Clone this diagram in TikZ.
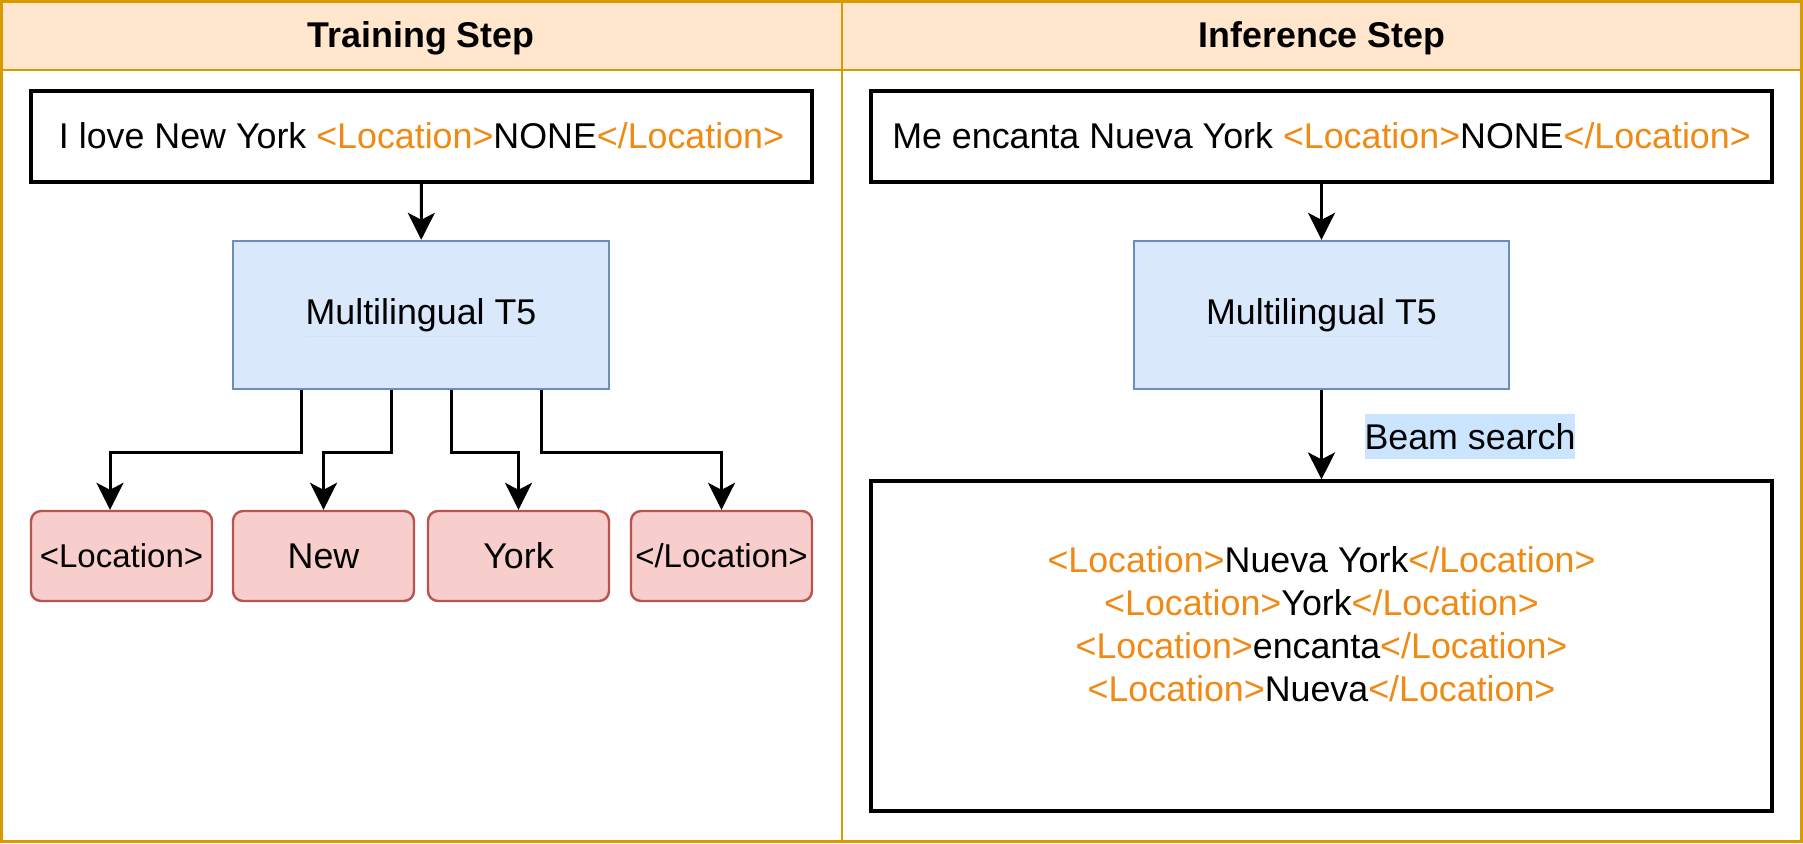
\documentclass[tikz,border=0pt]{standalone}
\usepackage{fontspec}
\setmainfont{Liberation Sans}
\usetikzlibrary{arrows.meta,calc}
\definecolor{hdrfill}{HTML}{FFE6CC}
\definecolor{hdrline}{HTML}{D79B00}
\definecolor{bluefill}{HTML}{DAE8FC}
\definecolor{blueline}{HTML}{6C8EBF}
\definecolor{redfill}{HTML}{F8CECC}
\definecolor{redline}{HTML}{B85450}
\definecolor{tagc}{HTML}{F08A14}
\definecolor{beambg}{HTML}{CCE5FF}
\newcommand{\tg}[1]{\textcolor{tagc}{#1}}
\tikzset{
  mainfont/.style={font=\fontsize{17.9}{21.5}\selectfont},
  titlefont/.style={font=\fontsize{17.9}{21.5}\selectfont\bfseries},
  frameline/.style={draw=hdrline, line width=1.4pt},
  blackbox/.style={draw=black, line width=1.6pt, fill=white, inner sep=0pt, minimum height=45.5pt},
  modelbox/.style={draw=blueline, line width=1.2pt, fill=bluefill, inner sep=0pt, minimum width=188pt, minimum height=74pt},
  tokbox/.style={draw=redline, line width=1.2pt, fill=redfill, rounded corners=5pt, inner sep=0pt, minimum width=90.5pt, minimum height=45pt},
  arr/.style={draw=black, line width=1.5pt, -{Stealth[length=13.5pt, width=13.5pt, inset=3.5pt]}},
  ulstyle/.style={draw=beambg, line width=0.6pt},
}
\begin{document}
\begin{tikzpicture}[x=0.5pt, y=-0.5pt, mainfont]
\useasboundingbox (0,0) rectangle (1803,843);
% frame and headers
\fill[hdrfill] (0,0) rectangle (1803,70);
\draw[frameline] (0,70) -- (1803,70);
\draw[frameline] (842,0) -- (842,843);
\draw[hdrline, line width=1.6pt] (1.6,1.6) rectangle (1801.4,841.4);
\node[titlefont] (ttrain) at (421,38) {Training Step};
\node[titlefont] (tinfer) at (1322,38) {Inference Step};
% training side
\node[blackbox, minimum width=390.5pt] (in1) at (421.5,136.5)
  {\raisebox{1pt}{I love New York \tg{<Location>}NONE\tg{</Location>}}};
\node[modelbox] (t5a) at (421,315) {Multilingual T5};
\draw[ulstyle] ([xshift=-57.5pt, yshift=-10.8pt]t5a.center) -- ([xshift=57.5pt, yshift=-10.8pt]t5a.center);
\node[tokbox, font=\fontsize{16.5}{19}\selectfont] (tk1) at (121.5,556) {<Location>};
\node[tokbox] (tk2) at (323.5,556) {New};
\node[tokbox] (tk3) at (518.5,556) {York};
\node[tokbox, font=\fontsize{16.5}{19}\selectfont] (tk4) at (721.5,556) {</Location>};
\draw[arr] (in1) -- (t5a);
\draw[arr] ([xshift=-60pt]t5a.south) -- ++(0,62) -| ([xshift=-5.75pt]tk1.north);
\draw[arr] ([xshift=-15pt]t5a.south) -- ++(0,62) -| (tk2.north);
\draw[arr] ([xshift=15pt]t5a.south) -- ++(0,62) -| (tk3.north);
\draw[arr] ([xshift=60pt]t5a.south) -- ++(0,62) -| (tk4.north);
% inference side
\node[blackbox, minimum width=450.5pt] (in2) at (1321.5,136.5)
  {\raisebox{1pt}{Me encanta Nueva York \tg{<Location>}NONE\tg{</Location>}}};
\node[modelbox, minimum width=187.5pt] (t5b) at (1321.5,315) {Multilingual T5};
\draw[ulstyle] ([xshift=-57.5pt, yshift=-10.8pt]t5b.center) -- ([xshift=57.5pt, yshift=-10.8pt]t5b.center);
\node[blackbox, minimum width=450.5pt, minimum height=165pt] (out) at (1321.5,646) {};
\node[align=center, inner sep=0pt] (outtxt) at ([yshift=11pt]out.center)
  {\tg{<Location>}Nueva York\tg{</Location>}\\
   \tg{<Location>}York\tg{</Location>}\\
   \tg{<Location>}encanta\tg{</Location>}\\
   \tg{<Location>}Nueva\tg{</Location>}};
\draw[arr] (in2) -- (t5b);
\draw[arr] (t5b) -- (out);
\node[fill=beambg, inner xsep=0pt, inner ysep=0pt, minimum height=22.5pt] (beam) at (1470,436.5) {Beam search};
\end{tikzpicture}
\end{document}
